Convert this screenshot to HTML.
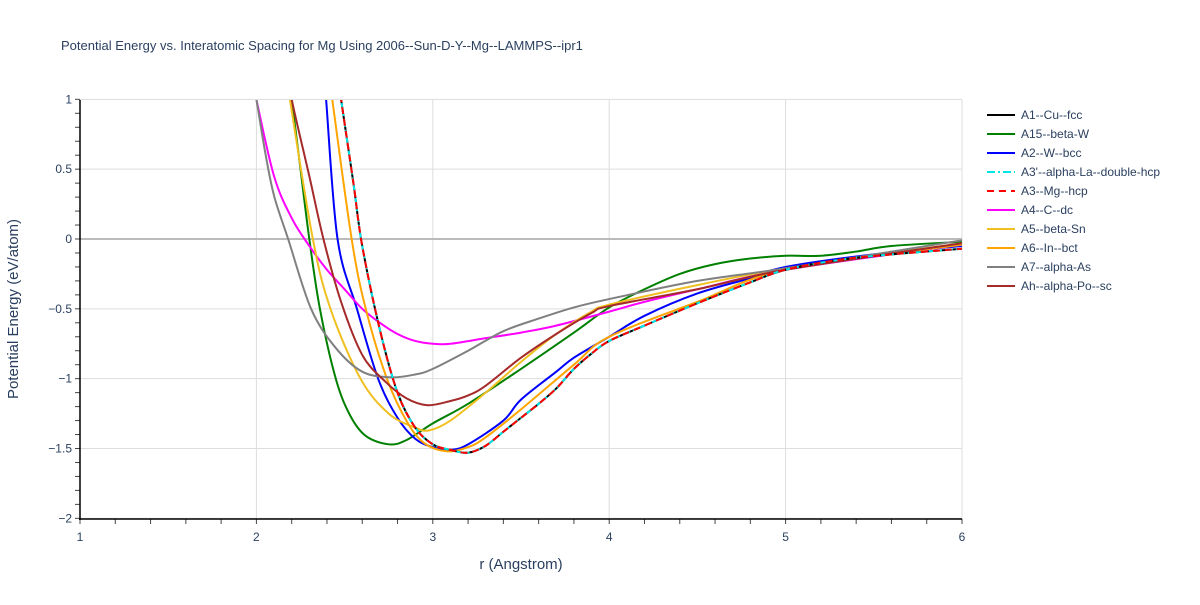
<!DOCTYPE html>
<html><head><meta charset="utf-8"><style>
body{margin:0;background:#fff;font-family:"Liberation Sans",sans-serif;}
svg text{font-family:"Liberation Sans",sans-serif;fill:#2a3f5f;}
</style></head><body>
<svg id="chart" width="1200" height="600">
<text x="61" y="50" font-size="13">Potential Energy vs. Interatomic Spacing for Mg Using 2006--Sun-D-Y--Mg--LAMMPS--ipr1</text>
<g id="grid"></g><g id="axes"></g>
<defs><clipPath id="clip"><rect x="80" y="100" width="882" height="419"/></clipPath></defs>
<g id="series" clip-path="url(#clip)"></g>
<g id="legend"></g>
<text x="521" y="569" font-size="15" text-anchor="middle">r (Angstrom)</text>
<text transform="translate(18,309) rotate(-90)" font-size="15" text-anchor="middle">Potential Energy (eV/atom)</text>
</svg>
<script>
const xTicks=[1,2,3,4,5,6];
const yTicks=[1,0.5,0,-0.5,-1,-1.5,-2];
const yTickLabels=["1","0.5","0","−0.5","−1","−1.5","−2"];
const names=["A1--Cu--fcc","A15--beta-W","A2--W--bcc","A3'--alpha-La--double-hcp","A3--Mg--hcp","A4--C--dc","A5--beta-Sn","A6--In--bct","A7--alpha-As","Ah--alpha-Po--sc"];
const colors=["#000","#008000","#0000ff","#00e5e5","#ff0000","#ff00ff","#f0c020","#ffa500","#808080","#a52a2a"];
const dashes=["","","","8,3,2,3","7,5","","","","",""];
const mgR=[2.46,2.48,2.55,2.6,2.7,2.8,2.9,3.0,3.1,3.2,3.3,3.4,3.5,3.6,3.7,3.8,3.9,4.0,4.2,4.5,4.8,5.0,5.3,5.6,6.0];
const mgE=[1.2,1,0.4,-0.05,-0.65,-1.1,-1.35,-1.47,-1.51,-1.53,-1.48,-1.38,-1.28,-1.18,-1.07,-0.93,-0.82,-0.73,-0.62,-0.46,-0.31,-0.22,-0.15,-0.11,-0.07];
const a15R=[2.18,2.2,2.25,2.3,2.36,2.45,2.53,2.62,2.75,2.85,3.0,3.2,3.5,3.8,4.0,4.2,4.4,4.6,4.8,5.0,5.2,5.4,5.6,6.0];
const a15E=[1.2,1,0.5,0,-0.5,-1,-1.26,-1.41,-1.47,-1.44,-1.32,-1.18,-0.93,-0.67,-0.49,-0.36,-0.25,-0.18,-0.14,-0.12,-0.12,-0.09,-0.05,-0.02];
const a2R=[2.38,2.395,2.46,2.57,2.69,2.8,2.9,3.0,3.1,3.2,3.4,3.5,3.7,3.8,4.0,4.2,4.5,4.8,5.0,5.5,6.0];
const a2E=[1.2,1,0,-0.5,-1,-1.28,-1.43,-1.49,-1.51,-1.47,-1.3,-1.15,-0.95,-0.85,-0.7,-0.55,-0.39,-0.28,-0.2,-0.11,-0.05];
const a4R=[1.98,2.0,2.1,2.2,2.3,2.4,2.5,2.6,2.7,2.8,2.9,3.0,3.1,3.3,3.5,3.7,4.0,4.2,4.5,5.0,6.0];
const a4E=[1.15,1,0.45,0.15,-0.05,-0.22,-0.36,-0.5,-0.6,-0.68,-0.73,-0.75,-0.75,-0.71,-0.67,-0.62,-0.52,-0.45,-0.36,-0.22,-0.04];
const a5R=[2.17,2.19,2.32,2.42,2.59,2.75,2.9,2.98,3.1,3.3,3.5,3.7,3.9,4.0,4.5,5.0,6.0];
const a5E=[1.2,1,0,-0.5,-1,-1.25,-1.35,-1.37,-1.3,-1.1,-0.88,-0.68,-0.52,-0.47,-0.33,-0.21,-0.03];
const a6R=[2.41,2.43,2.54,2.62,2.74,2.85,2.95,3.08,3.2,3.3,3.5,3.8,4.0,4.5,5.0,6.0];
const a6E=[1.2,1,0,-0.5,-1,-1.3,-1.46,-1.52,-1.49,-1.42,-1.22,-0.9,-0.7,-0.45,-0.22,-0.04];
const a7R=[1.98,2.0,2.05,2.1,2.18,2.31,2.45,2.6,2.76,2.9,3.0,3.2,3.4,3.6,3.8,4.0,4.5,5.0,6.0];
const a7E=[1.15,1,0.62,0.31,0,-0.5,-0.78,-0.95,-0.99,-0.97,-0.93,-0.8,-0.66,-0.57,-0.49,-0.43,-0.3,-0.21,-0.01];
const ahR=[2.18,2.2,2.3,2.38,2.48,2.6,2.73,2.85,2.97,3.1,3.2,3.3,3.5,3.7,3.9,4.0,4.5,5.0,6.0];
const ahE=[1.2,1,0.45,0,-0.45,-0.83,-1.02,-1.14,-1.19,-1.16,-1.12,-1.05,-0.85,-0.68,-0.53,-0.48,-0.36,-0.22,-0.03];
const seriesR=[mgR,a15R,a2R,mgR,mgR,a4R,a5R,a6R,a7R,ahR];
const seriesE=[mgE,a15E,a2E,mgE,mgE,a4E,a5E,a6E,a7E,ahE];
const NS="http://www.w3.org/2000/svg";
const X=r=>80+(r-1)*176.4, Y=e=>239-e*139.67;
function mk(t,a,p){const e=document.createElementNS(NS,t);for(const k in a)e.setAttribute(k,a[k]);p.appendChild(e);return e;}
const grid=document.getElementById('grid'),axes=document.getElementById('axes');
xTicks.forEach(v=>{if(v>1){const g=mk('line',{x1:X(v),x2:X(v),y1:100,y2:519,stroke:'#ddd'},grid);

}
const t=mk('text',{x:X(v),y:541,'font-size':12,'text-anchor':'middle'},axes);t.textContent=v;

});
yTicks.forEach((v,i)=>{const g=mk('line',{x1:80,x2:962,y1:Y(v),y2:Y(v),stroke:v===0?'#bbb':'#ddd','stroke-width':v===0?2:1},grid);


const t=mk('text',{x:72,y:Y(v)+4,'font-size':12,'text-anchor':'end'},axes);t.textContent=yTickLabels[i];

});
for(let v=1;v<=6.001;v+=0.2)mk('line',{x1:X(v),x2:X(v),y1:519,y2:524,stroke:'#444'},axes);
for(let v=-2;v<=1.001;v+=0.1)mk('line',{x1:75,x2:80,y1:Y(v),y2:Y(v),stroke:'#444'},axes);
mk('line',{x1:80,x2:80,y1:100,y2:520,stroke:'#000','stroke-width':1.5},axes);
mk('line',{x1:79,x2:962,y1:519,y2:519,stroke:'#000','stroke-width':1.5},axes);
function path(R,E){const p=R.map((r,i)=>[X(r),Y(E[i])]);let d=`M${p[0][0]},${p[0][1]}`;
for(let i=0;i<p.length-1;i++){const p0=p[Math.max(0,i-1)],p1=p[i],p2=p[i+1],p3=p[Math.min(p.length-1,i+2)];
d+=`C${p1[0]+(p2[0]-p0[0])/6},${p1[1]+(p2[1]-p0[1])/6} ${p2[0]-(p3[0]-p1[0])/6},${p2[1]-(p3[1]-p1[1])/6} ${p2[0]},${p2[1]}`;}return d;}
const sg=document.getElementById('series'),lg=document.getElementById('legend');
const order=[1,2,5,6,7,8,9,0,3,4];
order.forEach(i=>{const el=mk('path',{d:path(seriesR[i],seriesE[i]),fill:'none',stroke:colors[i],'stroke-width':2,'stroke-dasharray':dashes[i]},sg);

});
names.forEach((n,i)=>{const g=mk('g',{},lg);


const y=115+i*19;mk('line',{x1:987,x2:1015,y1:y,y2:y,stroke:colors[i],'stroke-width':2,'stroke-dasharray':dashes[i]},g);
const t=mk('text',{x:1021,y:y+4,'font-size':12},g);t.textContent=n;});
</script>
</body></html>
